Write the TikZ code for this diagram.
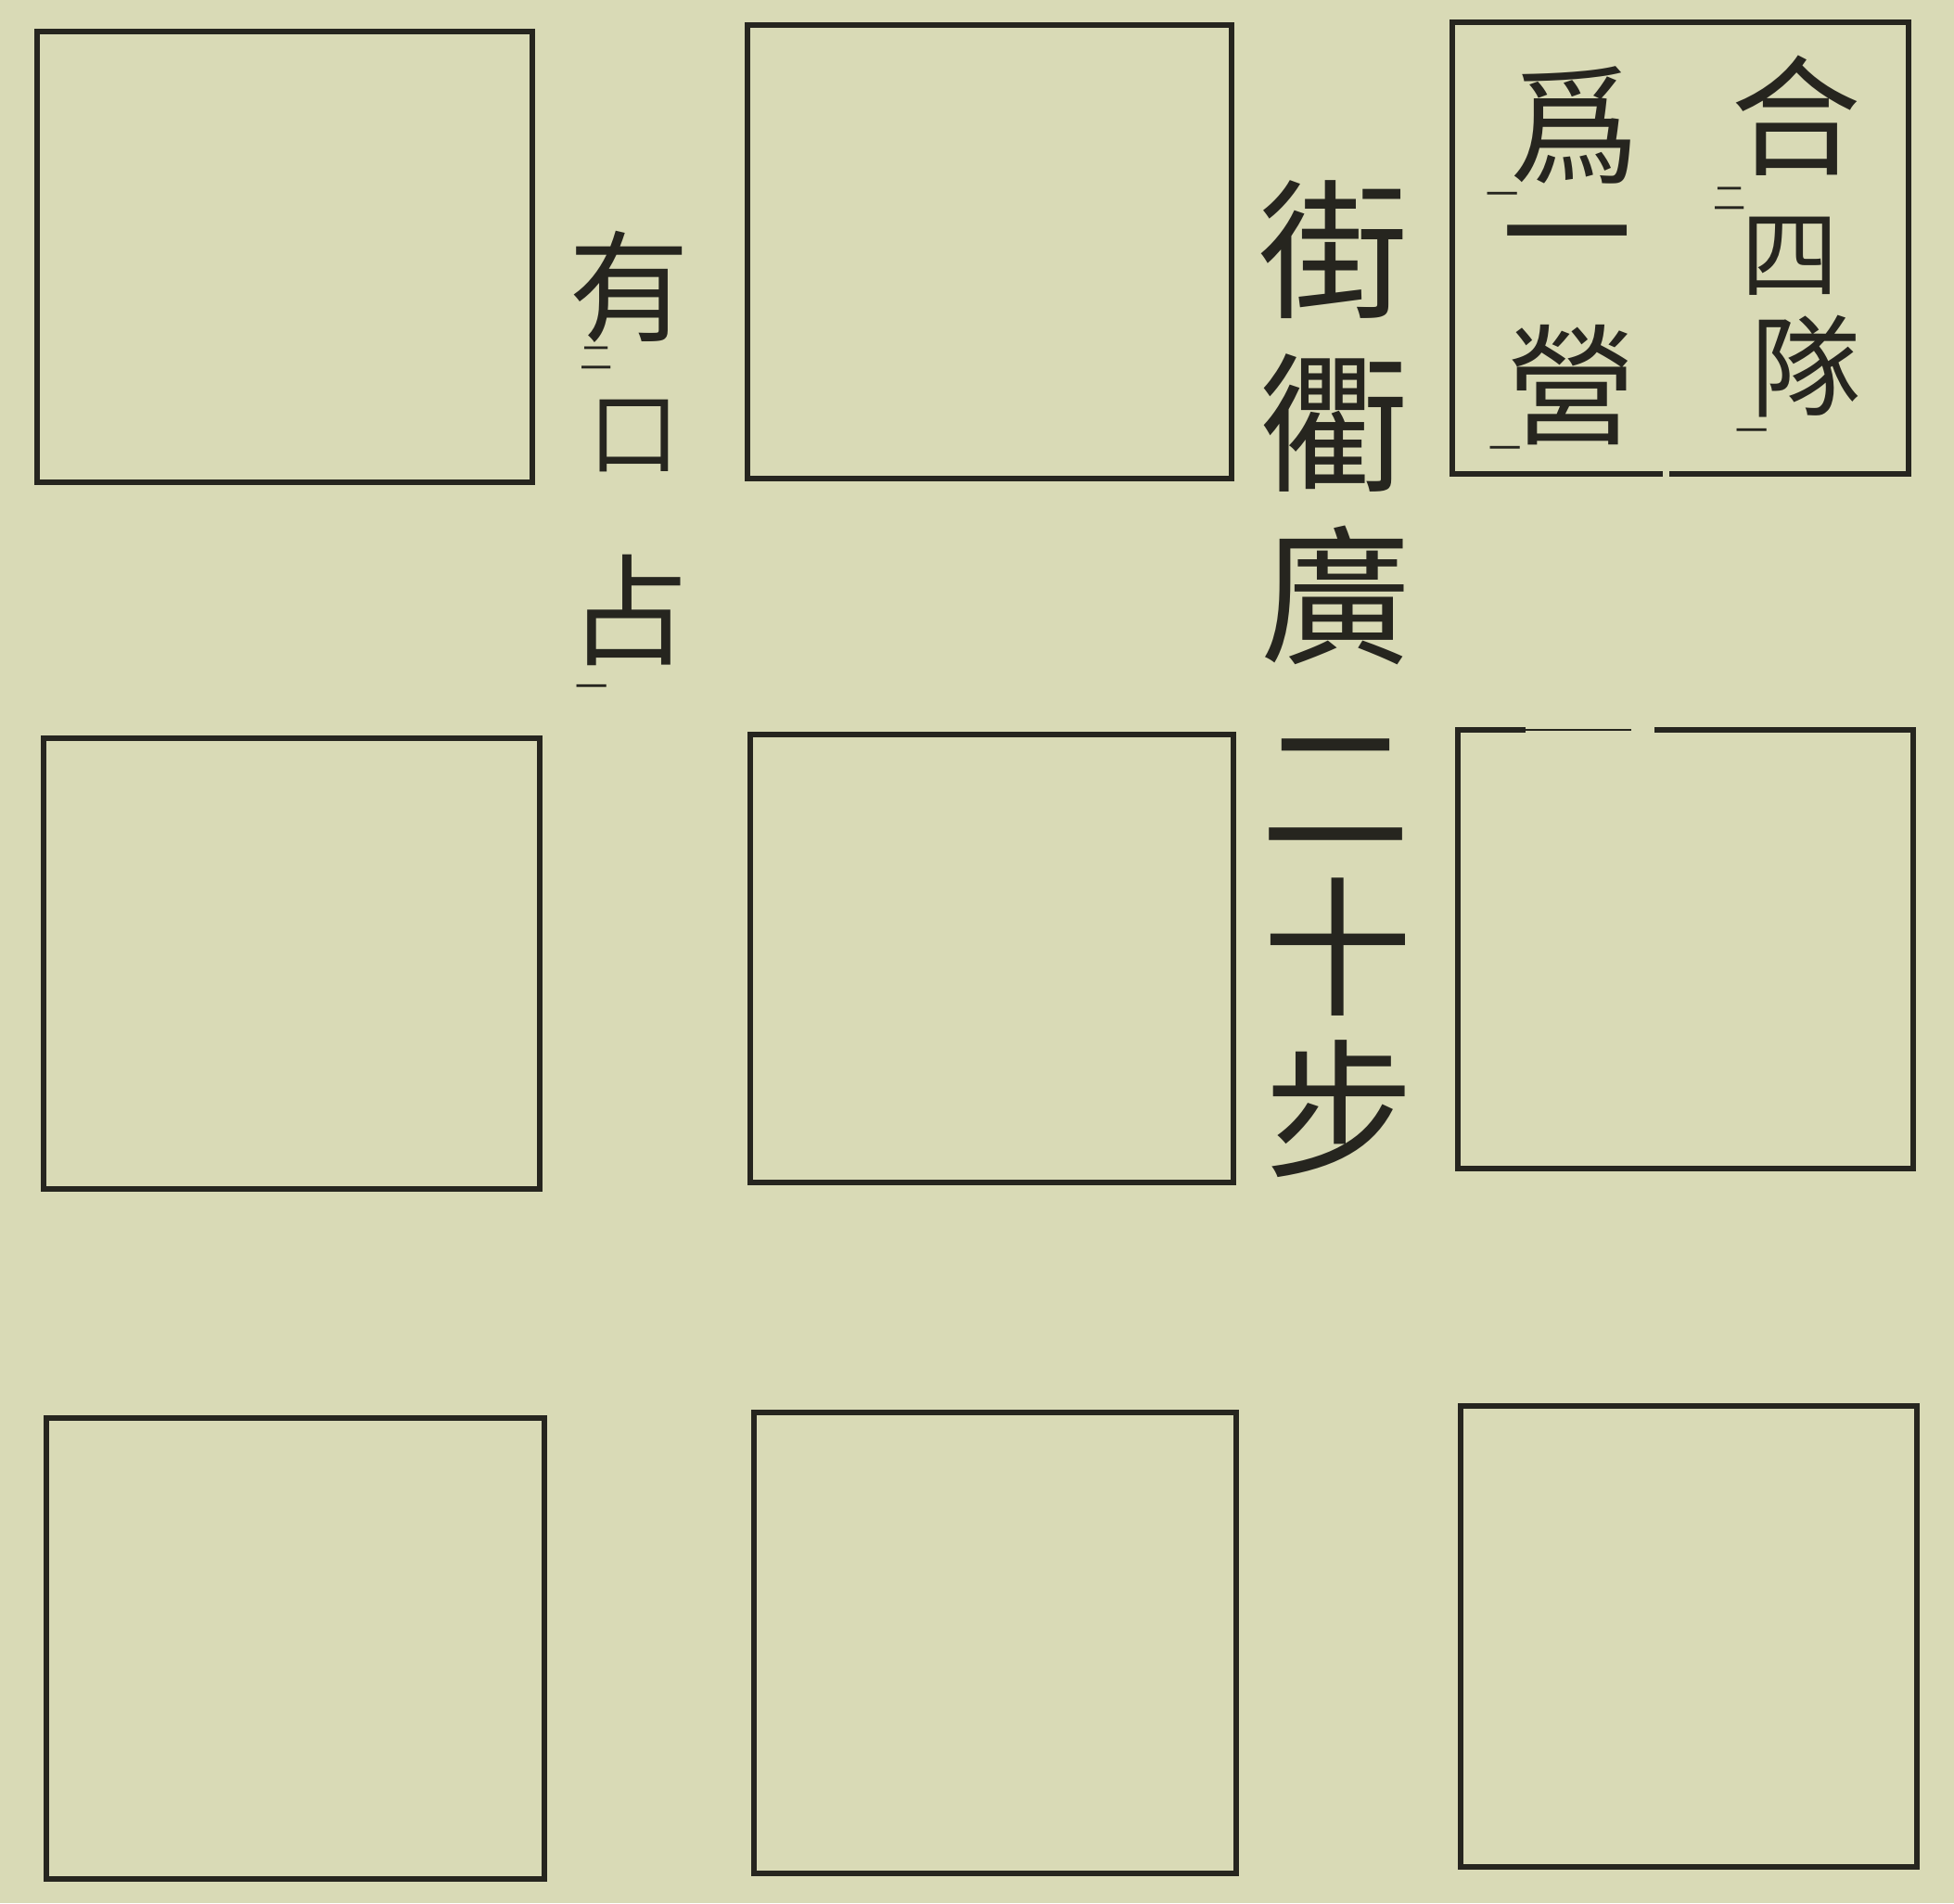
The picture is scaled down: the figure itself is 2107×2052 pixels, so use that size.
\documentclass[tikz,border=0pt]{standalone}
\usepackage{fontspec}
\newfontfamily\cjk{Noto Sans CJK TC}
\definecolor{paper}{HTML}{D9DAB6}
\definecolor{ink}{HTML}{26251F}
\begin{document}
\begin{tikzpicture}[x=0.01cm,y=-0.01cm,
  box/.style={draw=ink,line width=1.5pt,line join=miter},
  thinbox/.style={draw=ink,line width=0.6pt},
  bigch/.style={font=\cjk\fontsize{46}{46}\selectfont,text=ink,inner sep=0pt},
  midch/.style={font=\cjk\fontsize{40}{40}\selectfont,text=ink,inner sep=0pt},
  smallch/.style={font=\cjk\fontsize{37}{37}\selectfont,text=ink,inner sep=0pt},
  kmark/.style={font=\cjk\fontsize{10}{10}\selectfont,text=ink,inner sep=0pt}]
\fill[paper] (0,0) rectangle (2107,2052);
\useasboundingbox (0,0) rectangle (2107,2052);
% row 1
\draw[box] (40,34) rectangle (574,520);
\draw[box] (806,27) rectangle (1328,516);
\draw[box] (1793,511) -- (1566,511) -- (1566,24) -- (2058,24) -- (2058,511) -- (1800,511);
% row 2
\draw[box] (47,796) rectangle (582,1282);
\draw[box] (809,792) rectangle (1330,1275);
\draw[box] (1645,787) -- (1572,787) -- (1572,1260) -- (2063,1260) -- (2063,787) -- (1784,787);
\draw[thinbox] (1645,787) -- (1759,787);
% row 3
\draw[box] (50,1529) rectangle (587,2026);
\draw[box] (813,1523) rectangle (1333,2020);
\draw[box] (1575,1516) rectangle (2067,2013);
% column: 街衢廣二十步
\node[bigch] (c1) at (1438,269) {街};
\node[bigch] (c2) at (1438,456) {衢};
\node[bigch] (c3) at (1440,642) {廣};
\node[bigch] (c4) at (1440,853) {二};
\node[bigch] (c5) at (1442,1021) {十};
\node[bigch] (c6) at (1444,1196) {步};
% column: 有口占
\node[smallch] (a1) at (679,309) {有};
\node[smallch,font=\cjk\fontsize{28}{28}\selectfont] (a2) at (684,470) {口};
\node[smallch] (a3) at (679,658) {占};
\node[kmark] (am1) at (643,386) {二};
\node[kmark] (am2) at (638,746) {一};
% box text
\node[midch] (b1) at (1937,125) {合};
\node[midch,font=\cjk\fontsize{30}{30}\selectfont] (b2) at (1930,276) {四};
\node[midch,font=\cjk\fontsize{34}{34}\selectfont] (b3) at (1947,395) {隊};
\node[kmark] (bm1) at (1865,214) {二};
\node[kmark] (bm2) at (1889,470) {一};
\node[midch] (d1) at (1698,135) {爲};
\node[midch] (d2) at (1690,273) {一};
\node[midch] (d3) at (1695,415) {營};
\node[kmark] (dm1) at (1620,215) {一};
\node[kmark] (dm2) at (1623,489) {一};
\end{tikzpicture}
\end{document}
